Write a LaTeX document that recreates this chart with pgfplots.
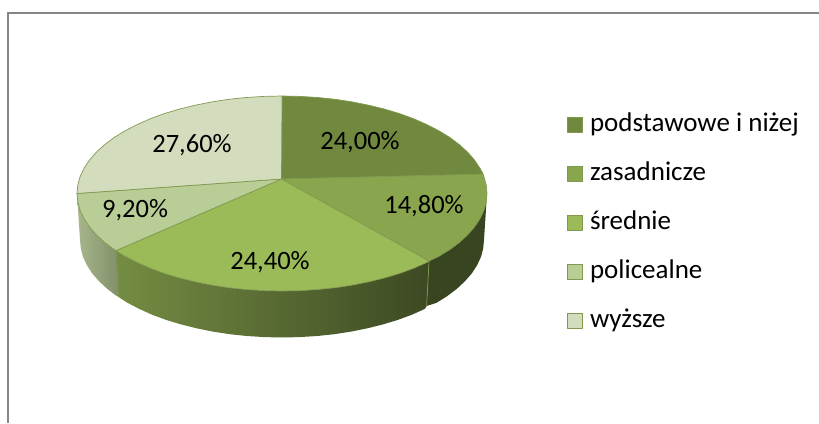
\documentclass[border=0pt]{standalone}
\usepackage{pgfplots}
\pgfplotsset{compat=1.18}
\usepackage{fontspec}
\setmainfont{Carlito}
\definecolor{cA}{HTML}{71893F}
\definecolor{cB}{HTML}{89A54E}
\definecolor{cC}{HTML}{9BBB59}
\definecolor{cD}{HTML}{B9CD96}
\definecolor{cE}{HTML}{D3DDBD}
\definecolor{edge}{HTML}{7F9A4E}
\definecolor{frameg}{HTML}{868686}
\begin{document}
\begin{tikzpicture}
\begin{axis}[
  scale only axis, width=819pt, height=423pt,
  xmin=0, xmax=819, ymin=0, ymax=423, y dir=reverse,
  axis line style={draw=none}, ticks=none,
  font=\fontsize{26.5}{30}\selectfont,
  legend style={at={(axis cs:567,113)}, anchor=north west, draw=none, fill=none,
    inner sep=0pt, outer sep=0pt, cells={anchor=west},
    nodes={inner sep=0pt, text height=18pt, text depth=6pt, font=\fontsize{27}{30}\selectfont},
    row sep=25pt, column sep=7pt},
  legend image code/.code={\draw[#1, draw=edge, line width=1pt] (0pt,-7pt) rectangle (15pt,8pt);},
]
% frame
\addplot[forget plot, draw=frameg, line width=2pt] coordinates {(7.7,423)(7.7,13)(819,13)};
% wall of policealne
\addplot[forget plot, draw=none, left color=cD!55!black!10!cD!80!gray, right color=cD!70!black] coordinates {
(116,250.6)(114.1,249.5)(104.5,242.25)(96.2,234.7)(89.4,226.8)(84.0,218.7)(80.1,210.4)(77.8,202.0)(77,193.5)
(80,240)(80.8,248.5)(83,256.9)(86.9,265.2)(92.1,273.3)(99,281.2)(107.1,288.75)(116.6,296)(118.5,297)(116,250.6)};
% wall of srednie
\addplot[forget plot, draw=none, left color=cC!75!black, middle color=cC!55!black, right color=cC!39!black] coordinates {
(429,261)(426.9,262.4)(413.8,268.2)(399.6,273.4)(384.5,277.9)(368.7,281.8)(352.1,285.1)(335.1,287.7)(317.6,289.5)(299.9,290.6)(282,291)
(264.1,290.6)(246.4,289.5)(228.9,287.7)(211.9,285.1)(195.3,281.8)(179.5,277.9)(164.4,273.4)(150.2,268.2)(137.1,262.4)(125,256.2)(116,250.6)
(118.5,297)(127.3,302.7)(139.2,308.9)(152.1,314.7)(166.1,319.9)(181,324.4)(196.6,328.3)(212.9,331.6)(229.7,334.2)(246.9,336)(264.4,337.1)(282,337.5)
(299.6,337.1)(317.1,336)(334.3,334.2)(351.1,331.6)(367.4,328.3)(383,324.4)(397.9,319.9)(411.9,314.7)(424.8,308.9)(426.7,306)(429,261)};
% wall of zasadnicze
\addplot[forget plot, draw=none, fill=cC!37!black] coordinates {
(487,193.5)(486.2,202)(483.9,210.4)(480,218.7)(474.6,226.8)(467.8,234.7)(459.5,242.25)(449.9,249.5)(439,256.2)(429,261)
(426.7,306)(436.7,302.7)(447.4,296)(456.9,288.75)(465,281.2)(471.9,273.3)(477.1,265.2)(481,256.9)(483.2,248.5)(484,240)(487,193.5)};
% separator on the side
\addplot[forget plot, draw=edge, line width=0.7pt] coordinates {(429,261)(426.7,305)};
\addplot[forget plot, draw=edge!80!gray, line width=0.7pt] coordinates {(116,250.6)(118.5,296)};
% top faces
\addplot[draw=edge, line width=0.7pt, line join=round, fill=cA] coordinates {
(281.5,179)(282,96)(299.9,96.4)(317.6,97.5)(335.1,99.3)(352.1,101.9)(368.7,105.2)(384.5,109.1)(399.6,113.6)(413.8,118.8)(426.9,124.6)(439,130.8)(449.9,137.5)(459.5,144.75)(467.8,152.3)(474.6,160.2)(480,168.3)(483.2,174.2)(281.5,179)};
\addlegendentry{podstawowe i niżej}
\addplot[draw=edge, line width=0.7pt, line join=round, fill=cB] coordinates {
(281.5,179)(483.2,174.2)(483.9,176.6)(486.2,185)(487,193.5)(486.2,202)(483.9,210.4)(480,218.7)(474.6,226.8)(467.8,234.7)(459.5,242.25)(449.9,249.5)(439,256.2)(429,261)(281.5,179)};
\addlegendentry{zasadnicze}
\addplot[draw=edge, line width=0.7pt, line join=round, fill=cC] coordinates {
(281.5,179)(429,261)(426.9,262.4)(413.8,268.2)(399.6,273.4)(384.5,277.9)(368.7,281.8)(352.1,285.1)(335.1,287.7)(317.6,289.5)(299.9,290.6)(282,291)
(264.1,290.6)(246.4,289.5)(228.9,287.7)(211.9,285.1)(195.3,281.8)(179.5,277.9)(164.4,273.4)(150.2,268.2)(137.1,262.4)(125,256.2)(116,250.6)(281.5,179)};
\addlegendentry{średnie}
\addplot[draw=edge, line width=0.7pt, line join=round, fill=cD] coordinates {
(281.5,179)(116,250.6)(114.1,249.5)(104.5,242.25)(96.2,234.7)(89.4,226.8)(84,218.7)(80.1,210.4)(77.8,202)(77,193.5)(281.5,179)};
\addlegendentry{policealne}
\addplot[draw=edge, line width=0.7pt, line join=round, fill=cE] coordinates {
(281.5,179)(77,193.5)(77.8,185)(80.1,176.6)(84,168.3)(89.4,160.2)(96.2,152.3)(104.5,144.75)(114.1,137.5)(125,130.8)(137.1,124.6)(150.2,118.8)(164.4,113.6)(179.5,109.1)(195.3,105.2)(211.9,101.9)(228.9,99.3)(246.4,97.5)(264.1,96.4)(282,96)(281.5,179)};
\addlegendentry{wyższe}
% data labels
\node at (axis cs:360,142) {24,00\%};
\node at (axis cs:424,206) {14,80\%};
\node at (axis cs:270,262) {24,40\%};
\node at (axis cs:135,210) {9,20\%};
\node at (axis cs:192,145) {27,60\%};
\end{axis}
\end{tikzpicture}
\end{document}
